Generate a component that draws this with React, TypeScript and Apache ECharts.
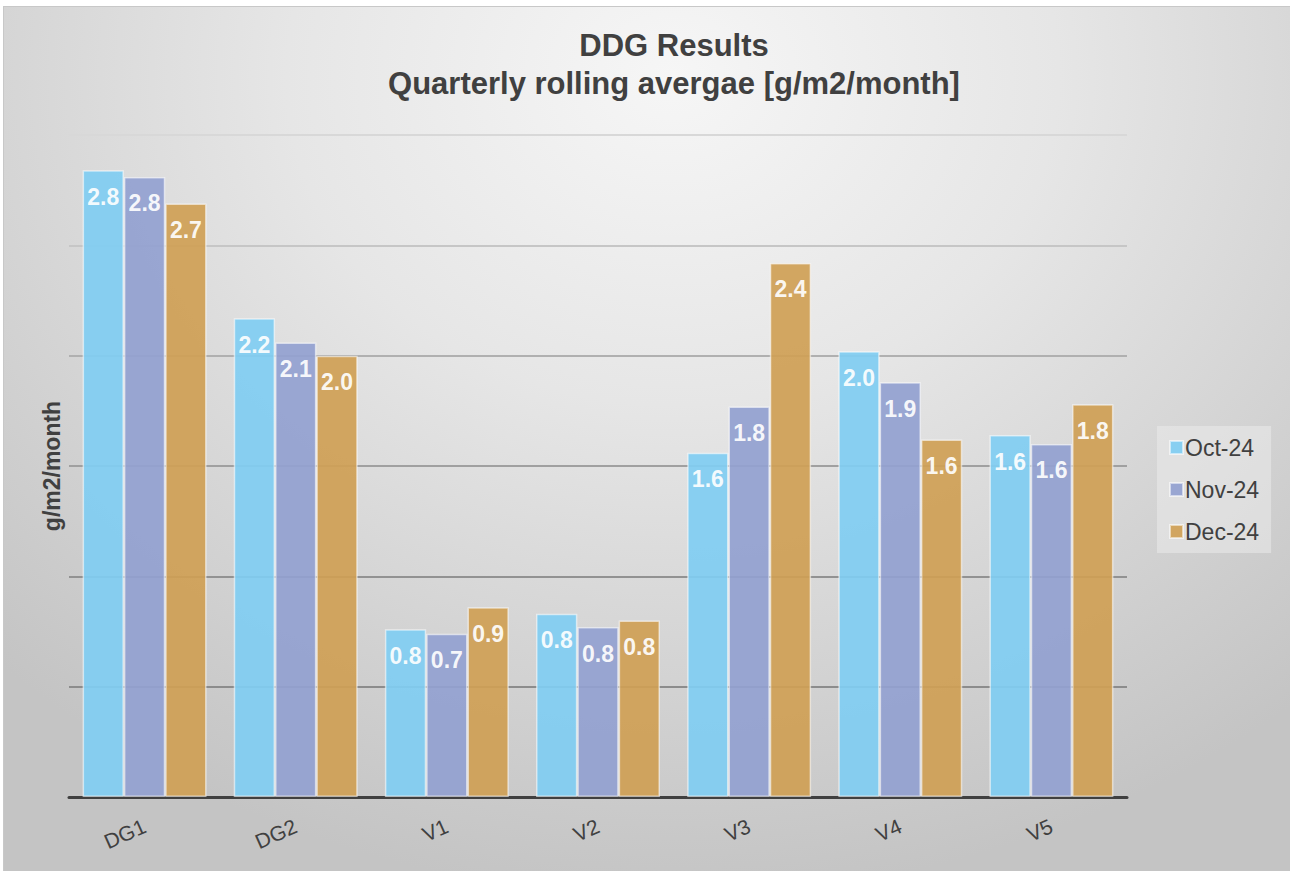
import React, { useEffect, useRef } from "react";
import * as echarts from "echarts";

const categories = ["DG1", "DG2", "V1", "V2", "V3", "V4", "V5"];
const seriesNames = ["Oct-24", "Nov-24", "Dec-24"];
const oct24 = [2.84, 2.17, 0.76, 0.83, 1.56, 2.02, 1.64];
const nov24 = [2.81, 2.06, 0.74, 0.77, 1.77, 1.88, 1.6];
const dec24 = [2.69, 2.0, 0.86, 0.8, 2.42, 1.62, 1.78];
const seriesColors = ["#80cdf2", "#93a1d0", "#cf9f55"];
const titleLines = ["DDG Results", "Quarterly rolling avergae [g/m2/month]"];
const yName = "g/m2/month";

export default function App() {
  const ref = useRef<HTMLDivElement>(null);
  useEffect(() => {
    if (!ref.current) return;
    const chart = echarts.init(ref.current, undefined, { renderer: "svg" });
    const values = [oct24, nov24, dec24];
    const font = "'Liberation Sans', Arial, sans-serif";
    chart.setOption({
      animation: false,
      backgroundColor: "transparent",
      textStyle: { fontFamily: font },
      graphic: [
        {
          type: "text",
          x: 670,
          y: 38,
          style: {
            text: titleLines[0],
            fill: "#404040",
            font: `bold 31px ${font}`,
            textAlign: "center",
            textVerticalAlign: "middle",
          },
        },
        {
          type: "text",
          x: 670,
          y: 76,
          style: {
            text: titleLines[1],
            fill: "#404040",
            font: `bold 31px ${font}`,
            textAlign: "center",
            textVerticalAlign: "middle",
          },
        },
      ],
      legend: {
        orient: "vertical",
        left: 1153,
        top: 419,
        data: seriesNames,
        itemWidth: 13,
        itemHeight: 13,
        itemGap: 19,
        padding: [10, 12, 10, 12],
        backgroundColor: "rgba(235,235,235,0.55)",
        textStyle: { fontSize: 23, color: "#404040", fontFamily: font, padding: [0, 0, 0, -3] },
        icon: "rect",
      },
      grid: { left: 65, right: 163, top: 128, bottom: 74, containLabel: false },
      xAxis: {
        type: "category",
        data: categories,
        axisLine: { show: true, lineStyle: { color: "#404040", width: 3 } },
        axisTick: { show: false },
        axisLabel: { rotate: 24, fontSize: 21, color: "#404040", margin: 28, fontFamily: font },
      },
      yAxis: {
        type: "value",
        min: 0,
        max: 3,
        interval: 0.5,
        name: yName,
        nameLocation: "middle",
        nameRotate: 90,
        nameGap: 6,
        nameTextStyle: { fontSize: 23, fontWeight: "bold", color: "#404040", fontFamily: font },
        axisLabel: { show: false },
        axisTick: { show: false },
        axisLine: { show: false },
        splitLine: {
          show: true,
          lineStyle: {
            width: 2,
            color: ["#8f8f8f", "#8c8c8c", "#929292", "#a0a0a0", "#b0b0b0", "#c6c6c6", "#d8d8d8"],
          },
        },
      },
      series: seriesNames.map((name, i) => ({
        name,
        type: "bar",
        data: values[i],
        barGap: "0%",
        barCategoryGap: "18%",
        itemStyle: {
          color: seriesColors[i],
          opacity: 0.92,
          borderColor: "rgba(255,255,255,0.6)",
          borderWidth: 1.5,
        },
        label: {
          show: true,
          position: "insideTop",
          distance: 15,
          color: "#ffffff",
          fontSize: 23,
          fontWeight: "bold",
          fontFamily: font,
          formatter: (p: any) => Number(p.value).toFixed(1),
        },
      })),
    });
    return () => chart.dispose();
  }, []);
  return (
    <div style={{ position: "fixed", left: 0, top: 0, width: 1290, height: 871, background: "#ffffff" }}>
      <div
        ref={ref}
        style={{
          position: "absolute",
          left: 3,
          top: 6,
          width: 1287,
          height: 865,
          boxSizing: "border-box",
          borderTop: "1px solid #c8c8c8",
          borderLeft: "1px solid #c8c8c8",
          background:
            "radial-gradient(ellipse 75% 95% at 52% 8%, #f6f6f6 0%, #e6e6e6 40%, #d2d2d2 75%, #c4c4c4 100%)",
        }}
      />
    </div>
  );
}
